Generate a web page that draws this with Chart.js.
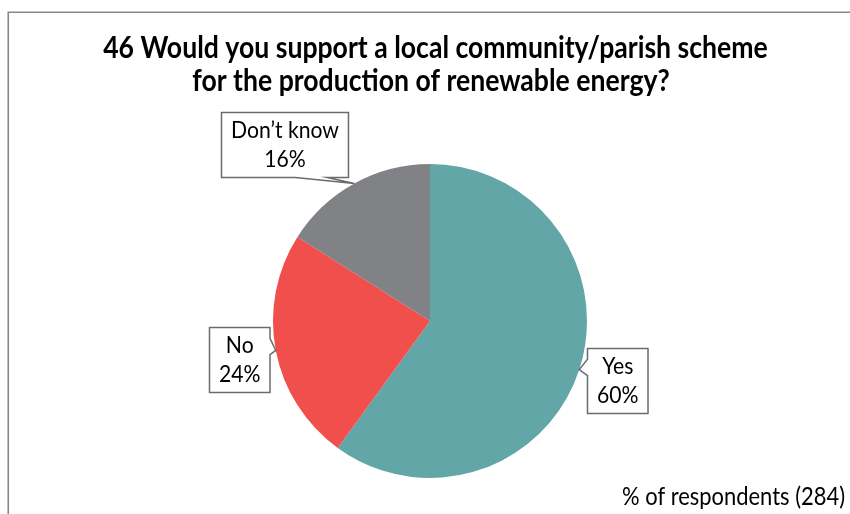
<!DOCTYPE html>
<html>
<head>
<meta charset="utf-8">
<script src="https://cdn.jsdelivr.net/npm/chart.js@4/dist/chart.umd.min.js"></script>
<style>
  html, body { margin: 0; padding: 0; background: #fff; }
  canvas { display: block; }
</style>
</head>
<body>
<canvas id="c" width="850" height="514"></canvas>
<script>
const titleLines = ['46 Would you support a local community/parish scheme', 'for the production of renewable energy?'];
const categories = ['Yes', 'No', 'Don\u2019t know'];
const values = [60, 24, 16];
const footnote = '% of respondents (284)';

const sliceColors = ['#62A6A7', '#F04F4C', '#808285'];
// callout box centre offsets from slice tip (px)
const calloutOffsets = [[38, 10.5], [-37, 9], [-69.5, -38.5]];

const FAMILY = 'Lato, "Open Sans", sans-serif';
const SX = 0.9; // slight horizontal condensing to mimic a narrow face

function fitSize(c, text, weight, target) {
  c.font = weight + ' 100px ' + FAMILY;
  return 100 * (target / SX) / c.measureText(text).width;
}
function textW(c, text) { return c.measureText(text).width * SX; }
function drawText(c, text, x, y, align) {
  c.save();
  c.translate(x, y);
  c.scale(SX, 1);
  c.textAlign = align;
  c.textBaseline = 'middle';
  c.fillText(text, 0, 0);
  c.restore();
}

function calloutPath(c, L, T, W, H, tx, ty) {
  const hc = L + W / 2, vc = T + H / 2;
  const dx = tx - hc, dy = ty - vc;
  const dq = dx * H / W;
  const dz = Math.abs(dy) - Math.abs(dq);
  const R = L + W, B = T + H;
  c.beginPath();
  c.moveTo(L, T);
  if (dz > 0) {
    const xg1 = dx > 0 ? 7 : 2, xg2 = dx > 0 ? 10 : 5;
    const x1 = L + W * xg1 / 12, x2 = L + W * xg2 / 12;
    if (dy < 0) { c.lineTo(x1, T); c.lineTo(tx, ty); c.lineTo(x2, T); }
    c.lineTo(R, T);
    c.lineTo(R, B);
    if (dy > 0) { c.lineTo(x2, B); c.lineTo(tx, ty); c.lineTo(x1, B); }
    c.lineTo(L, B);
    c.closePath();
  } else {
    const yg1 = dy > 0 ? 7 : 2, yg2 = dy > 0 ? 10 : 5;
    const y1 = T + H * yg1 / 12, y2 = T + H * yg2 / 12;
    c.lineTo(R, T);
    if (dx > 0) { c.lineTo(R, y1); c.lineTo(tx, ty); c.lineTo(R, y2); }
    c.lineTo(R, B);
    c.lineTo(L, B);
    if (dx < 0) { c.lineTo(L, y2); c.lineTo(tx, ty); c.lineTo(L, y1); }
    c.closePath();
  }
}

const decorPlugin = {
  id: 'decor',
  afterDraw(chart) {
    const c = chart.ctx;
    c.save();
    // frame
    c.strokeStyle = '#888888';
    c.lineWidth = 1.6;
    c.beginPath();
    c.moveTo(8.25, 514);
    c.lineTo(8.25, 12.25);
    c.lineTo(850, 12.25);
    c.stroke();

    // title
    const ts = fitSize(c, titleLines[0], 'bold', 665);
    c.font = 'bold ' + ts + 'px ' + FAMILY;
    c.fillStyle = '#000';
    drawText(c, titleLines[0], 435.5, 48, 'center');
    drawText(c, titleLines[1], 431, 81, 'center');

    // footnote
    const fs = fitSize(c, footnote, 'normal', 223);
    c.font = fs + 'px ' + FAMILY;
    drawText(c, footnote, 845, 497, 'right');

    // callouts
    const ls = fitSize(c, 'Don\u2019t know', 'normal', 108);
    c.font = ls + 'px ' + FAMILY;
    const lineH = 29;
    const meta = chart.getDatasetMeta(0);
    meta.data.forEach((arc, i) => {
      const p = arc.getProps(['x', 'y', 'startAngle', 'endAngle', 'outerRadius'], true);
      const mid = (p.startAngle + p.endAngle) / 2;
      const tx = p.x + Math.cos(mid) * p.outerRadius;
      const ty = p.y + Math.sin(mid) * p.outerRadius;
      const lines = [categories[i], values[i] + '%'];
      const tw = Math.max(...lines.map(t => textW(c, t)));
      const W = Math.max(tw + 19, 56), H = 65;
      const cx = tx + calloutOffsets[i][0], cy = ty + calloutOffsets[i][1];
      const L = Math.round(cx - W / 2) + 0.5, T = Math.round(cy - H / 2) + 0.5;
      calloutPath(c, L, T, W, H, tx, ty);
      c.fillStyle = '#fff';
      c.fill();
      c.strokeStyle = '#6b6b6b';
      c.lineWidth = 1.5;
      c.stroke();
      c.fillStyle = '#000';
      drawText(c, lines[0], L + W / 2, T + H / 2 - lineH / 2, 'center');
      drawText(c, lines[1], L + W / 2, T + H / 2 + lineH / 2, 'center');
    });
    c.restore();
  }
};

new Chart(document.getElementById('c'), {
  type: 'pie',
  data: {
    labels: categories,
    datasets: [{
      data: values,
      backgroundColor: sliceColors,
      borderWidth: 0
    }]
  },
  options: {
    responsive: false,
    animation: false,
    layout: { padding: { left: 273, right: 263, top: 164, bottom: 36 } },
    plugins: {
      legend: { display: false },
      tooltip: { enabled: false },
      title: { display: false }
    }
  },
  plugins: [decorPlugin]
});
</script>
</body>
</html>
